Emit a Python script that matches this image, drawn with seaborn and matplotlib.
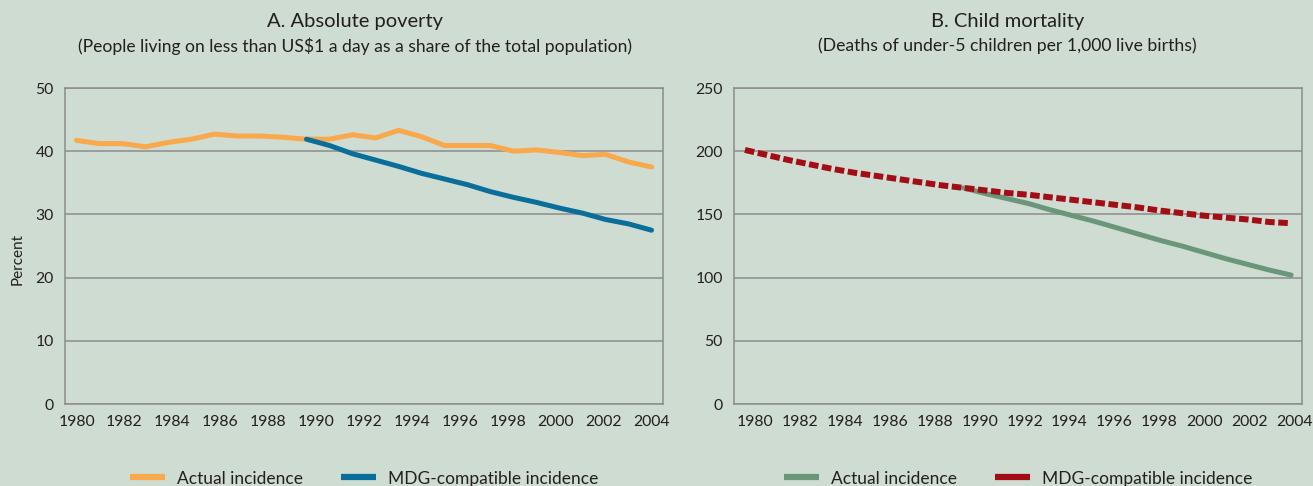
import matplotlib
matplotlib.use("Agg")
import matplotlib.pyplot as plt
from matplotlib.lines import Line2D
import seaborn as sns
import pandas as pd
import numpy as np

# ---- data (26 points per series, 1980-2004 axis) ----
points = list(range(26))
year_labels = [str(y) for y in range(1980, 2005, 2)]

poverty_actual = [41.7, 41.2, 41.2, 40.7, 41.4, 41.9, 42.7, 42.4, 42.4, 42.2,
                  41.9, 41.9, 42.6, 42.1, 43.3, 42.3, 40.9, 40.9, 40.9, 40.0,
                  40.2, 39.8, 39.3, 39.5, 38.3, 37.5]
poverty_mdg = [41.9, 40.9, 39.6, 38.6, 37.6, 36.5, 35.6, 34.7, 33.6, 32.7,
               31.9, 31.0, 30.2, 29.2, 28.5, 27.5]          # from point 10 on

mortality_mdg = [201, 197, 193, 189.5, 186, 183, 180.5, 178, 175.5, 173,
                 171, 169, 167, 165.5, 163.5, 161.5, 159.5, 157.5, 155.5, 153,
                 151, 149, 147.5, 146, 144, 143]
mortality_actual = [171, 166.5, 162.5, 158.5, 153.5, 149, 144.5, 139.5, 134.5,
                    129.5, 125, 120, 115, 110.5, 106, 102]   # from point 10 on

bg = "#cfdcd2"
grid_c = "#8c8c8c"
text_c = "#231f20"
orange = "#f9a84c"
blue = "#0a6e9a"
green = "#6a967a"
red = "#a30d15"

sns.set_style("white", {"axes.facecolor": bg, "figure.facecolor": bg})
plt.rcParams["font.family"] = ["Lato", "DejaVu Sans"]
plt.rcParams["text.color"] = text_c

pov_a = pd.DataFrame({"point": points, "value": poverty_actual})
pov_m = pd.DataFrame({"point": points[10:], "value": poverty_mdg})
mort_m = pd.DataFrame({"point": points, "value": mortality_mdg})
mort_a = pd.DataFrame({"point": points[10:], "value": mortality_actual})

fig = plt.figure(figsize=(13.13, 4.86), dpi=100, facecolor=bg)
ax1 = fig.add_axes([65 / 1313, 82 / 486, 598 / 1313, 316 / 486])
ax2 = fig.add_axes([734 / 1313, 82 / 486, 568 / 1313, 316 / 486])

sns.lineplot(data=pov_a, x="point", y="value", color=orange, linewidth=3.6, ax=ax1)
sns.lineplot(data=pov_m, x="point", y="value", color=blue, linewidth=3.6, ax=ax1)
sns.lineplot(data=mort_a, x="point", y="value", color=green, linewidth=3.6, ax=ax2)
sns.lineplot(data=mort_m, x="point", y="value", color=red, linewidth=4.3,
             linestyle=(0, (1.6, 0.6)), ax=ax2)


def style_axes(ax, ymax, ystep, label_pos):
    ax.set_facecolor(bg)
    ax.set_ylim(0, ymax)
    ax.set_yticks(range(0, ymax + 1, ystep))
    ax.set_xlim(-0.5, 25.5)
    ax.set_xticks(np.arange(-0.5, 26, 1), minor=True)
    ax.set_xticks(label_pos)
    ax.set_xticklabels(year_labels)
    ax.set_xlabel("")
    ax.set_ylabel("")
    ax.yaxis.grid(True, color=grid_c, linewidth=1.1)
    ax.xaxis.grid(False)
    for s in ax.spines.values():
        s.set_visible(True)
        s.set_color(grid_c)
        s.set_linewidth(1.1)
    ax.tick_params(axis="y", length=4, width=1, color=grid_c, pad=4,
                   labelsize=11.3, labelcolor=text_c)
    ax.tick_params(axis="x", which="major", length=0, pad=8,
                   labelsize=11.3, labelcolor=text_c)
    ax.tick_params(axis="x", which="minor", length=5, width=1, color=grid_c)


style_axes(ax1, 50, 10, np.linspace(0, 25, 13))
style_axes(ax2, 250, 50, np.linspace(0.45, 25.15, 13))

ax1.set_ylabel("Percent", fontsize=11, color=text_c)
ax1.yaxis.set_label_coords(-0.068, 0.46)

ax1.text(0.485, 1.209, "A. Absolute poverty", transform=ax1.transAxes,
         ha="center", va="center", fontsize=14.5)
ax1.text(0.485, 1.133, "(People living on less than US$1 a day as a share of the total population)",
         transform=ax1.transAxes, ha="center", va="center", fontsize=12.65)
ax2.text(0.482, 1.209, "B. Child mortality", transform=ax2.transAxes,
         ha="center", va="center", fontsize=14.5)
ax2.text(0.482, 1.133, "(Deaths of under-5 children per 1,000 live births)",
         transform=ax2.transAxes, ha="center", va="center", fontsize=12.7)


def add_legend(ax, colors):
    handles = [Line2D([], [], color=c, linewidth=4.5, solid_capstyle="butt") for c in colors]
    ax.legend(handles, ["Actual incidence", "MDG-compatible incidence"],
              loc="center", bbox_to_anchor=(0.5, -0.236), ncol=2, frameon=False,
              fontsize=12.5, handlelength=2.0, handletextpad=0.7, columnspacing=2.2)


add_legend(ax1, [orange, blue])
add_legend(ax2, [green, red])

fig.savefig("out.png", dpi=100, facecolor=bg)
